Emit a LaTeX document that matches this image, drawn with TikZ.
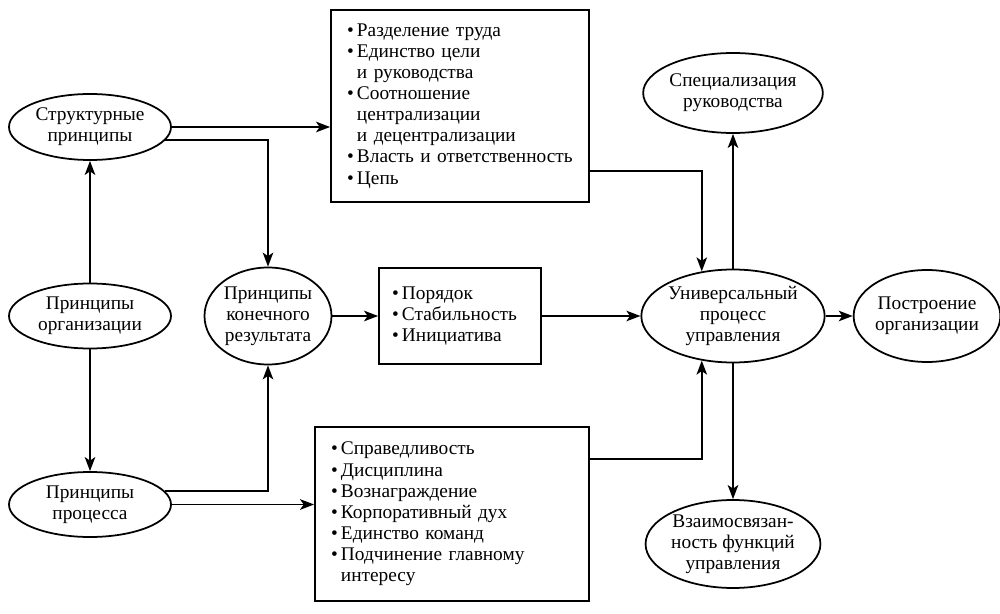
\documentclass[tikz,border=0pt]{standalone}
\usepackage{fontspec}
\setmainfont{Liberation Serif}
\usetikzlibrary{shapes.geometric, arrows.meta}

\tikzset{
	oval/.style = {draw, ellipse, align=center, inner sep=0pt},
	listbox/.style = {draw, align=left, inner xsep=0.32cm, inner ysep=0pt},
	arr/.style = {-{Stealth[length=2.8mm, width=2.1mm, inset=0.7mm]}},
}
\newcommand{\itm}{\textbullet}

\begin{document}
\begin{tikzpicture}[line width=1pt, font=\fontsize{11}{12}\selectfont]
		\useasboundingbox (0,0) rectangle (20,12.26);
		% left column
		\node (struct) at (1.8,9.72) [oval, minimum width=3.24cm, minimum height=1.32cm] {Структурные\\принципы};
		\node (org) at (1.8,5.94) [oval, minimum width=3.24cm, minimum height=1.3cm] {Принципы\\организации};
		\node (proc) at (1.8,2.17) [oval, minimum width=3.24cm, minimum height=1.3cm] {Принципы\\процесса};
		\node (result) at (5.36,5.94) [oval, minimum width=2.54cm, minimum height=1.94cm] {Принципы\\конечного\\результата};
		% boxes
		\node (topbox) at (9.2,10.14) [listbox, text width=4.52cm, minimum height=3.84cm] {%
			\begin{tabular}{@{}l@{\,}l@{}}
			\itm & Разделение труда\\
			\itm & Единство цели\\
			     & и руководства\\
			\itm & Соотношение\\
			     & централизации\\
			     & и децентрализации\\
			\itm & Власть и ответственность\\
			\itm & Цепь
			\end{tabular}};
		\node (midbox) at (9.2,5.94) [listbox, inner xsep=0.26cm, text width=2.72cm, minimum height=1.92cm] {%
			\begin{tabular}{@{}l@{\,}l@{}}
			\itm & Порядок\\
			\itm & Стабильность\\
			\itm & Инициатива
			\end{tabular}};
		\node (botbox) at (9.04,1.98) [listbox, text width=4.84cm, minimum height=3.48cm] {%
			\begin{tabular}{@{}l@{\,}l@{}}
			\itm & Справедливость\\
			\itm & Дисциплина\\
			\itm & Вознаграждение\\
			\itm & Корпоративный дух\\
			\itm & Единство команд\\
			\itm & Подчинение главному\\
			     & интересу
			\end{tabular}};
		% right part
		\node (spec) at (14.66,10.4) [oval, minimum width=3.2cm, minimum height=1.6cm] {Специализация\\руководства};
		\node (univ) at (14.66,5.94) [oval, minimum width=3.2cm, minimum height=1.86cm] {Универсальный\\процесс\\управления};
		\node (build) at (18.54,5.94) [oval, minimum width=2.6cm, minimum height=1.84cm] {Построение\\организации};
		\node (inter) at (14.66,1.38) [oval, minimum width=3.08cm, minimum height=1.76cm] {Взаимосвязан-\\ность функций\\управления};
		\coordinate (tbout) at (11.78,8.84);
		\coordinate (bbout) at (11.78,3.08);
		% connectors
		\draw [arr] (org.north) -- (struct.south);
		\draw [arr] (org.south) -- (proc.north);
		\draw [arr] (struct.east) -- (struct.east -| topbox.west);
		\draw [arr] (struct.-10) -| (result.north);
		\draw [arr] (proc.10) -| (result.south);
		\draw [arr] (proc.east) -- (proc.east -| botbox.west);
		\draw [arr] (result.east) -- (midbox.west);
		\draw [arr] (midbox.east) -- (univ.west);
		\draw [arr] (tbout) -| (univ.125);
		\draw [arr] (bbout) -| (univ.235);
		\draw [arr] (univ.north) -- (spec.south);
		\draw [arr] (univ.south) -- (inter.north);
		\draw [arr] (univ.east) -- (build.west);
	\end{tikzpicture}
\end{document}
